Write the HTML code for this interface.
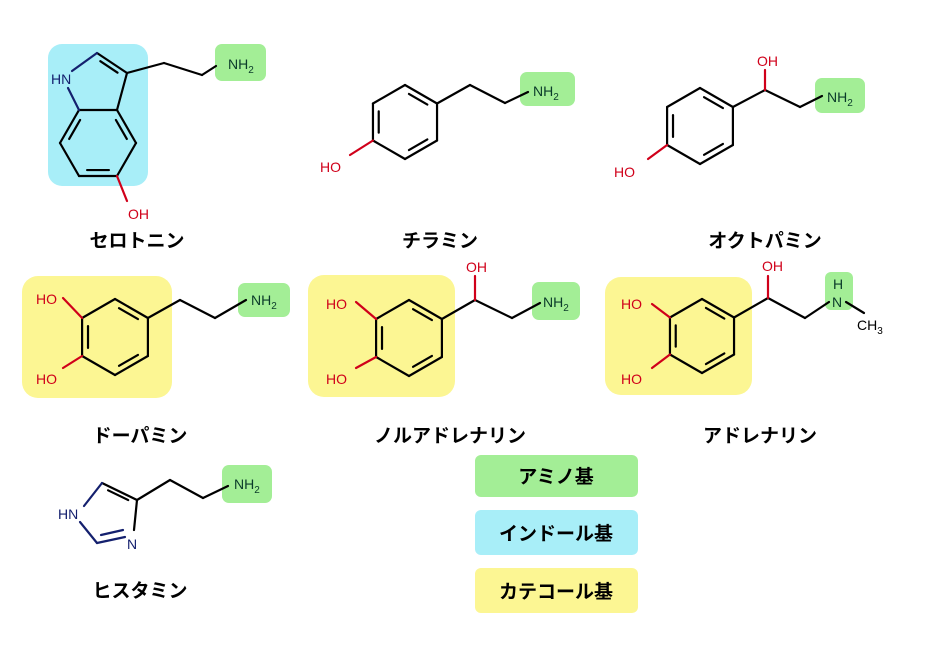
<!DOCTYPE html>
<html><head><meta charset="utf-8"><style>
body{margin:0;background:#fff;width:927px;height:646px;overflow:hidden}
svg{display:block}
text{font-family:"Liberation Sans","Noto Sans CJK JP",sans-serif}
.lab{font-size:19px;font-weight:bold;fill:#000;text-anchor:middle}
.at{font-size:14px}
</style></head><body>
<svg id="s" width="927" height="646" viewBox="0 0 927 646" xmlns="http://www.w3.org/2000/svg">
<rect x="48" y="44" width="100" height="142" rx="14" fill="#a8eef8"/>
<rect x="215" y="44" width="51" height="37" rx="7" fill="#a3ee96"/>
<rect x="520" y="72" width="55" height="34" rx="7" fill="#a3ee96"/>
<rect x="815" y="78" width="50" height="35" rx="7" fill="#a3ee96"/>
<rect x="22" y="276" width="150" height="122" rx="16" fill="#fcf693"/>
<rect x="238" y="283" width="52" height="34" rx="7" fill="#a3ee96"/>
<rect x="308" y="275" width="147" height="122" rx="16" fill="#fcf693"/>
<rect x="532" y="282" width="48" height="38" rx="7" fill="#a3ee96"/>
<rect x="605" y="277" width="147" height="118" rx="16" fill="#fcf693"/>
<rect x="825" y="272" width="28" height="38" rx="6" fill="#a3ee96"/>
<rect x="222" y="465" width="50" height="38" rx="7" fill="#a3ee96"/>
<rect x="475" y="455" width="163" height="42" rx="6" fill="#a3ee96"/>
<rect x="475" y="510" width="163" height="45" rx="6" fill="#a8eef8"/>
<rect x="475" y="568" width="163" height="45" rx="6" fill="#fcf693"/>
<g id="b" stroke="#000" stroke-width="2.2" fill="none" stroke-linecap="round"></g>
<g fill="#d0001a" class="at">
<text x="128" y="219">OH</text>
<text x="320" y="172">HO</text>
<text x="614" y="177">HO</text>
<text x="757" y="66">OH</text>
<text x="36" y="304">HO</text><text x="36" y="384">HO</text>
<text x="326" y="309">HO</text><text x="326" y="384">HO</text>
<text x="466" y="272">OH</text>
<text x="621" y="309">HO</text><text x="621" y="384">HO</text>
<text x="762" y="271">OH</text>
</g>
<g fill="#14206e" class="at">
<text x="51" y="84">HN</text>
<text x="58" y="519">HN</text>
<text x="127" y="549">N</text>
</g>
<g fill="#0a3a2a" class="at">
<text x="228" y="69">NH<tspan font-size="10" dy="4">2</tspan></text>
<text x="533" y="96">NH<tspan font-size="10" dy="4">2</tspan></text>
<text x="827" y="102">NH<tspan font-size="10" dy="4">2</tspan></text>
<text x="251" y="305">NH<tspan font-size="10" dy="4">2</tspan></text>
<text x="543" y="307">NH<tspan font-size="10" dy="4">2</tspan></text>
<text x="833" y="289">H</text><text x="832" y="307">N</text>
<text x="234" y="489">NH<tspan font-size="10" dy="4">2</tspan></text>
</g>
<text x="857" y="330" class="at" fill="#000">CH<tspan font-size="10" dy="4">3</tspan></text>
<text class="lab" x="137" y="247">セロトニン</text>
<text class="lab" x="440" y="247">チラミン</text>
<text class="lab" x="765" y="247">オクトパミン</text>
<text class="lab" x="140" y="442">ドーパミン</text>
<text class="lab" x="450" y="442">ノルアドレナリン</text>
<text class="lab" x="760" y="442">アドレナリン</text>
<text class="lab" x="140" y="597">ヒスタミン</text>
<text class="lab" x="556" y="483">アミノ基</text>
<text class="lab" x="556" y="540">インドール基</text>
<text class="lab" x="556" y="598">カテコール基</text>
</svg>
<script>
var g=document.getElementById('b'),NS='http://www.w3.org/2000/svg';
function L(a,b,c,d,col){var e=document.createElementNS(NS,'line');e.setAttribute('x1',a);e.setAttribute('y1',b);e.setAttribute('x2',c);e.setAttribute('y2',d);if(col)e.setAttribute('stroke',col);g.appendChild(e);}
function P(pts,col){for(var i=0;i<pts.length-1;i++)L(pts[i][0],pts[i][1],pts[i+1][0],pts[i+1][1],col);}
function D(a,b,cx,cy){var f=0.18,s=0.15;var ax=a[0]+(b[0]-a[0])*s,ay=a[1]+(b[1]-a[1])*s,bx=b[0]-(b[0]-a[0])*s,by=b[1]-(b[1]-a[1])*s;L(ax+(cx-ax)*f,ay+(cy-ay)*f,bx+(cx-bx)*f,by+(cy-by)*f);}
function ring(cx,cy,r){var h=r*0.866,v=[[cx,cy-r],[cx+h,cy-r/2],[cx+h,cy+r/2],[cx,cy+r],[cx-h,cy+r/2],[cx-h,cy-r/2]];P(v.concat([v[0]]));D(v[0],v[1],cx,cy);D(v[2],v[3],cx,cy);D(v[4],v[5],cx,cy);return v;}
var C3a=[117,110],C7a=[79,110],C4=[136,143],C5=[117,176],C6=[79,176],C7=[60,143],C3=[127,73],C2=[97,53];
P([C7a,C3a,C4,C5,C6,C7,C7a]);D(C3a,C4,98,143);D(C5,C6,98,143);D(C7,C7a,98,143);
P([C3a,C3,C2]);D(C3,C2,95,85);L(97,53,72,71,'#14206e');L(79,110,68,88,'#14206e');
L(117,176,127,201,'#d0001a');P([C3,[164,63],[202,75],[216,66]]);
var v=ring(405,122,37);L(v[4][0],v[4][1],350,155,'#d0001a');P([v[1],[470,85],[505,103],[528,92]]);
v=ring(700,126,38);L(v[4][0],v[4][1],648,159,'#d0001a');P([v[1],[765,90],[800,107],[822,96]]);L(765,90,765,70,'#d0001a');
v=ring(115,337,38);L(v[5][0],v[5][1],63,298,'#d0001a');L(v[4][0],v[4][1],63,368,'#d0001a');P([v[1],[180,300],[215,318],[246,300]]);
v=ring(409,338,38);L(v[5][0],v[5][1],356,302,'#d0001a');L(v[4][0],v[4][1],356,368,'#d0001a');P([v[1],[475,300],[512,318],[540,303]]);L(475,300,475,276,'#d0001a');
v=ring(702,336,37);L(v[5][0],v[5][1],652,304,'#d0001a');L(v[4][0],v[4][1],652,368,'#d0001a');P([v[1],[768,298],[805,318],[829,302]]);L(768,298,768,276,'#d0001a');P([[846,302],[864,313]]);
var a=[102,483],b=[137,500],n3=[134,530],c2=[97,543];
P([a,b,n3]);D(a,b,112,512);L(a[0],a[1],84,506,'#14206e');L(c2[0],c2[1],80,522,'#14206e');L(c2[0],c2[1],125,537,'#14206e');L(101,535,123,530,'#14206e');
P([b,[170,480],[203,498],[228,486]]);
</script>
</body></html>
